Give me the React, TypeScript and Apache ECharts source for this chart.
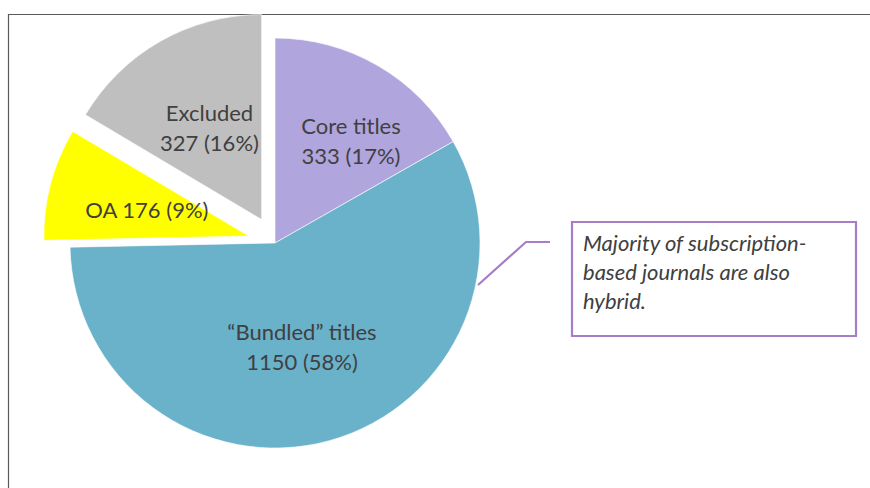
import React, { useEffect, useRef } from "react";
import * as echarts from "echarts";

const categories = ["Core titles", "“Bundled” titles", "OA", "Excluded"];
const values = [333, 1150, 176, 327];
const exploded = [false, false, true, true];
const colors = ["#B1A5DD", "#6AB1CA", "#FFFF00", "#BFBFBF"];
const singleLineLabel = [false, false, true, false];
const labelPositions: [number, number][] = [
  [351, 140],
  [302, 346],
  [120, 217],
  [196, 103],
];
const noteLines = ["Majority of subscription-", "based journals are also", "hybrid."];

const FONT = "Lato, 'Open Sans', sans-serif";

export default function App() {
  const ref = useRef<HTMLDivElement>(null);
  useEffect(() => {
    document.body.style.margin = "0";
    if (!ref.current) return;
    const chart = echarts.init(ref.current, undefined, { renderer: "svg" });
    chart.setOption({
      animation: false,
      backgroundColor: "#ffffff",
      textStyle: { fontFamily: FONT },
      series: [
        {
          type: "pie",
          center: [275, 243],
          radius: 205,
          startAngle: 90,
          clockwise: true,
          selectedMode: "multiple",
          selectedOffset: 27,
          silent: true,
          emphasis: { disabled: true },
          avoidLabelOverlap: false,
          itemStyle: { borderColor: "#ffffff", borderWidth: 0.6 },
          label: {
            show: true,
            position: "inside",
            color: "#404040",
            fontFamily: FONT,
            fontSize: 22,
            lineHeight: 30,
            align: "center",
            formatter: (p: any) =>
              p.name +
              (singleLineLabel[p.dataIndex] ? " " : "\n") +
              p.value +
              " (" +
              Math.round(p.percent) +
              "%)",
          },
          labelLayout: (p: any) => ({
            x: labelPositions[p.dataIndex][0],
            y: labelPositions[p.dataIndex][1],
            align: "center",
            verticalAlign: "middle",
          }),
          data: categories.map((c, i) => ({
            name: c,
            value: values[i],
            selected: exploded[i],
            itemStyle: { color: colors[i] },
          })),
        },
      ],
      graphic: [
        {
          type: "line",
          shape: { x1: 8, y1: 14.5, x2: 870, y2: 14.5 },
          style: { stroke: "#595959", lineWidth: 1.2 },
          silent: true,
        },
        {
          type: "line",
          shape: { x1: 8.5, y1: 14, x2: 8.5, y2: 488 },
          style: { stroke: "#595959", lineWidth: 1.2 },
          silent: true,
        },
        {
          type: "polyline",
          shape: { points: [[478, 285], [526, 242], [550, 242]] },
          style: { stroke: "#A67DC6", lineWidth: 2.2, fill: "none" },
          silent: true,
        },
        {
          type: "rect",
          shape: { x: 572, y: 222, width: 284, height: 114 },
          style: { stroke: "#A67DC6", lineWidth: 2.2, fill: "#ffffff" },
          silent: true,
        },
        ...noteLines.map((t, i) => ({
          type: "text",
          x: 583,
          y: 242 + i * 29,
          silent: true,
          style: {
            text: t,
            fill: "#404040",
            fontFamily: FONT,
            fontStyle: "italic",
            fontSize: 22,
            verticalAlign: "middle",
            align: "left",
          },
        })),
      ],
    });
    return () => chart.dispose();
  }, []);
  return <div ref={ref} style={{ width: 870, height: 488 }} />;
}
